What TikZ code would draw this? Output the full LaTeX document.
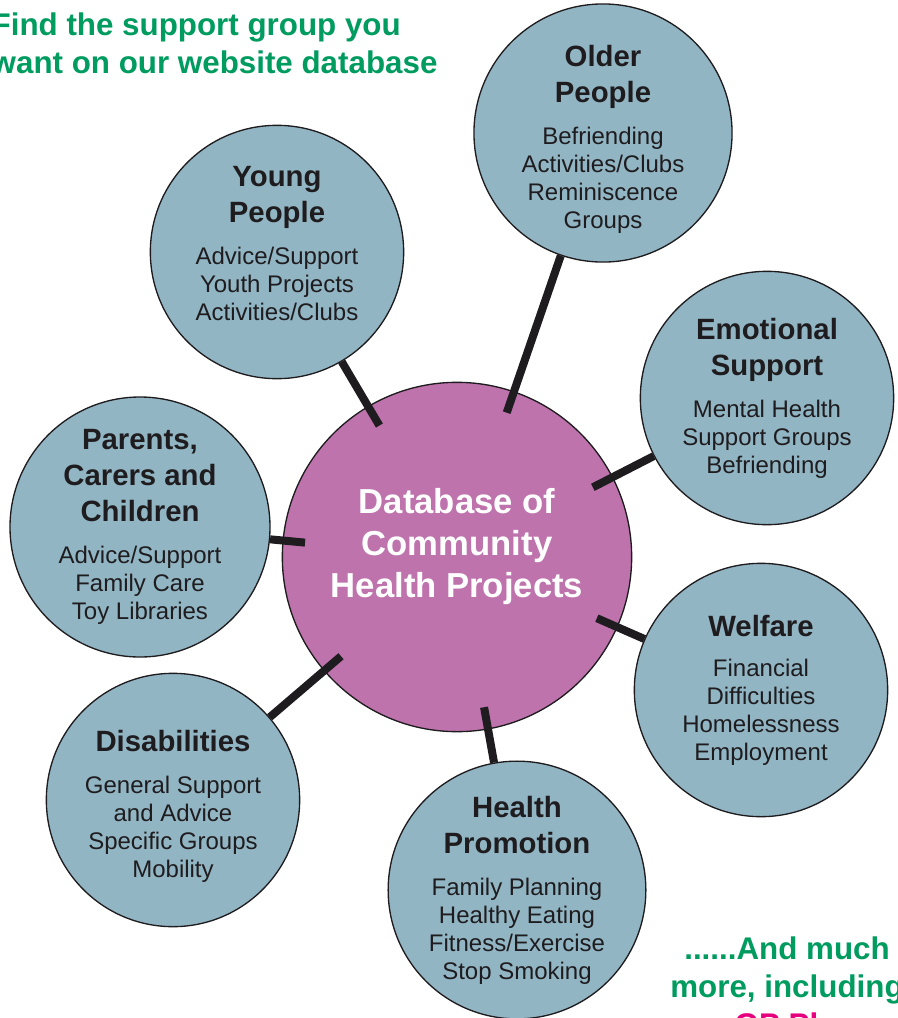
\documentclass[tikz,border=0pt]{standalone}
\usepackage{fontspec}
\setmainfont{Liberation Sans}
\definecolor{grpblue}{RGB}{146,181,196}
\definecolor{hubpink}{RGB}{190,115,173}
\definecolor{adgreen}{RGB}{0,155,95}
\definecolor{adpink}{RGB}{230,0,126}
\definecolor{inkblack}{RGB}{30,28,30}
\newcommand\grphead[1]{{\fontsize{22}{21}\selectfont\bfseries #1}}
\newcommand\padtop[1]{\rule{0pt}{#1}}
\newcommand\padbot[1]{\rule[-#1]{0pt}{0pt}}
\tikzset{
  grp/.style={circle,draw=inkblack,line width=1pt,fill=grpblue,minimum size=190pt,
    inner sep=0pt,align=center,text=inkblack,font=\fontsize{18}{21}\selectfont},
  hub/.style={circle,draw=inkblack,line width=1pt,fill=hubpink,minimum size=262pt,
    inner sep=0pt,align=center,text=white,font=\fontsize{26}{31.5}\selectfont\bfseries},
  link/.style={line width=6pt,draw=inkblack,shorten >=-17pt},
  advert/.style={text=adgreen,font=\fontsize{23.5}{28.5}\selectfont\bfseries}
}
\begin{document}
\begin{tikzpicture}[x=0.75pt,y=-0.75pt]%support groups
\useasboundingbox (0,0) rectangle (897,1018);
\node[hub] (hub) at (457,557) {Database of\\Community\\Health Projects\padbot{20.5pt}};
\node[grp] (young) at (277,252) {\grphead{Young}\\[6pt]\grphead{People}\\[10.5pt]Advice/Support\\Youth Projects\\Activities/Clubs\padbot{13pt}};
\node[grp,minimum size=186pt] (older) at (603,133) {\grphead{\padtop{26pt}Older}\\[6pt]\grphead{People}\\[10.5pt]Befriending\\Activities/Clubs\\Reminiscence\\Groups};
\node[grp] (emotional) at (767,398) {\grphead{Emotional}\\[6pt]\grphead{Support}\\[10.5pt]Mental Health\\Support Groups\\Befriending};
\node[grp,minimum size=195pt] (parents) at (140,527) {\grphead{Parents,}\\[6pt]\grphead{Carers and}\\[6pt]\grphead{Children}\\[10.5pt]Advice/Support\\Family Care\\Toy Libraries};
\node[grp] (welfare) at (761,690) {\grphead{Welfare}\\[9pt]Financial\\Difficulties\\Homelessness\\Employment};
\node[grp] (disab) at (173,800) {\grphead{\padtop{26pt}Disabilities}\\[10.5pt]General Support\\and Advice\\Specific Groups\\Mobility};
\node[grp] (health) at (517,890) {\grphead{Health}\\[6pt]\grphead{Promotion}\\[10.5pt]Family Planning\\Healthy Eating\\Fitness/Exercise\\Stop Smoking};
\foreach \g in {young,older,emotional,parents,welfare,disab,health}
  \draw[link] (\g) -- (hub);
\node[advert,anchor=base west,align=left] (find) at (-13,73) {Find the support group you\\want on our website database};
\node[advert,anchor=base,align=center] (more) at (787,997) {......And much\\more, including};
\node[advert,text=adpink,anchor=base west] (gp) at (730,1035) {GP Pl};
\end{tikzpicture}
\end{document}
